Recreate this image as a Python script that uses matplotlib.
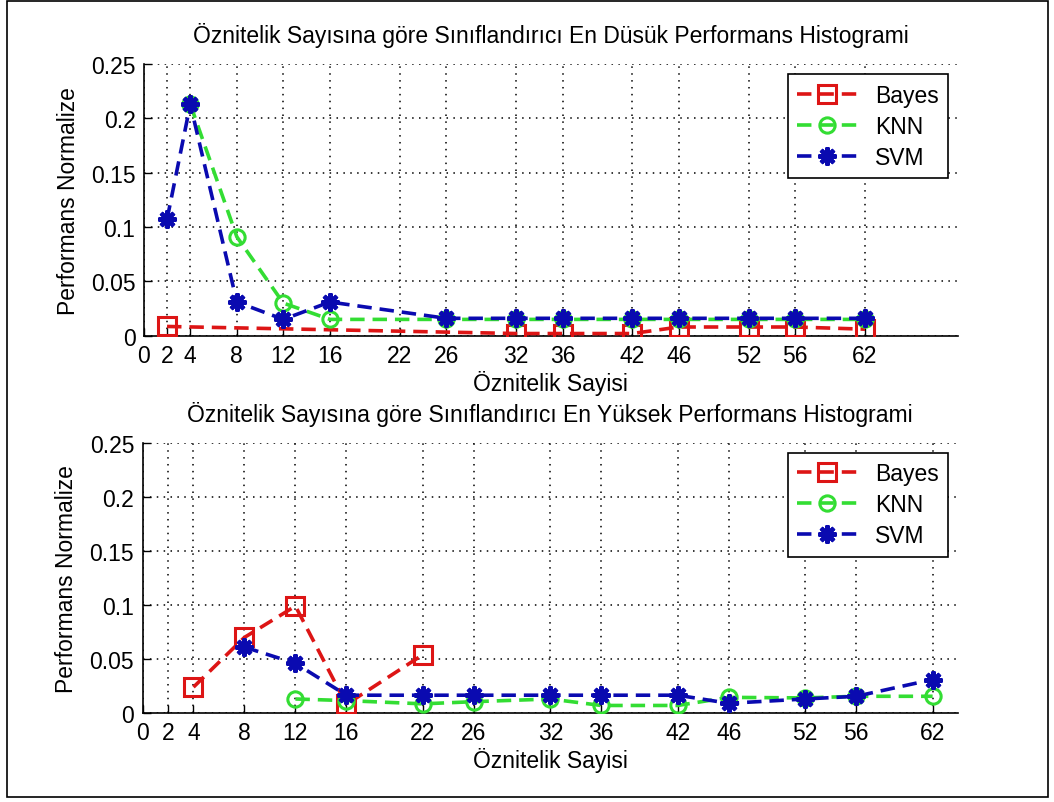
import matplotlib
matplotlib.use("Agg")
import matplotlib.pyplot as plt
from matplotlib.patches import Rectangle

plt.rcParams['font.family'] = ['Liberation Sans', 'DejaVu Sans']

# Feature counts shown on the x axis
tick_x = [0, 2, 4, 8, 12, 16, 22, 26, 32, 36, 42, 46, 52, 56, 62]
tick_y = [0, 0.05, 0.1, 0.15, 0.2, 0.25]

# Lowest performance per classifier
low_bayes_x = [2, 32, 36, 42, 46, 52, 56, 62]
low_bayes_y = [0.0085, 0.002, 0.002, 0.002, 0.008, 0.008, 0.008, 0.006]
low_knn_x = [4, 8, 12, 16, 26, 32, 36, 42, 46, 52, 56, 62]
low_knn_y = [0.213, 0.091, 0.030, 0.015, 0.015, 0.015, 0.015, 0.015, 0.015, 0.015, 0.015, 0.015]
low_svm_x = [2, 4, 8, 12, 16, 26, 32, 36, 42, 46, 52, 56, 62]
low_svm_y = [0.107, 0.213, 0.031, 0.015, 0.031, 0.016, 0.016, 0.016, 0.016, 0.016, 0.016, 0.016, 0.016]

# Highest performance per classifier
high_bayes_x = [4, 8, 12, 16, 22]
high_bayes_y = [0.024, 0.070, 0.099, 0.008, 0.054]
high_knn_x = [12, 16, 22, 26, 32, 36, 42, 46, 52, 56, 62]
high_knn_y = [0.013, 0.0115, 0.0085, 0.0105, 0.013, 0.007, 0.007, 0.0145, 0.014, 0.0155, 0.0155]
high_svm_x = [8, 12, 16, 22, 26, 32, 36, 42, 46, 52, 56, 62]
high_svm_y = [0.061, 0.046, 0.0165, 0.0165, 0.0165, 0.0165, 0.0165, 0.0165, 0.009, 0.013, 0.0155, 0.031]

labels = ["Bayes", "KNN", "SVM"]
colors = ["#dd1515", "#33dd33", "#0a0ab0"]
FS = 16.5

fig = plt.figure(figsize=(10.54, 8.03), dpi=100)
fig.patches.append(Rectangle((0.007, 0.006), 0.987, 0.991, transform=fig.transFigure,
                             fill=False, edgecolor="black", linewidth=1.2))

ax_low = fig.add_axes([0.1364, 0.5807, 0.7726, 0.3383])
ax_high = fig.add_axes([0.1352, 0.1108, 0.7738, 0.3363])

panels = [
    (ax_low, 70, "Öznitelik Sayısına göre Sınıflandırıcı En Düsük Performans Histogrami",
     [(low_bayes_x, low_bayes_y), (low_knn_x, low_knn_y), (low_svm_x, low_svm_y)]),
    (ax_high, 64, "Öznitelik Sayısına göre Sınıflandırıcı En Yüksek Performans Histogrami",
     [(high_bayes_x, high_bayes_y), (high_knn_x, high_knn_y), (high_svm_x, high_svm_y)]),
]

for ax, xmax, title, series in panels:
    (bx, by), (kx, ky), (sx, sy) = series
    ax.plot(bx, by, linestyle=(0, (4, 2.2)), color=colors[0], lw=2.6, marker="s",
            ms=13, mfc="none", mec=colors[0], mew=2.2, label=labels[0], zorder=3)
    ax.plot(kx, ky, linestyle=(0, (4, 2.2)), color=colors[1], lw=2.6, marker="o",
            ms=11, mfc="none", mec=colors[1], mew=2.2, label=labels[1], zorder=4)
    ax.plot(sx, sy, linestyle=(0, (4, 2.2)), color=colors[2], lw=2.6, marker=(8, 2, 0),
            ms=13, mec=colors[2], mew=3.0, label=labels[2], zorder=5)

    ax.set_xlim(0, xmax)
    ax.set_ylim(0, 0.25)
    ax.set_xticks(tick_x)
    ax.set_yticks(tick_y)
    ax.set_yticklabels(["0", "0.05", "0.1", "0.15", "0.2", "0.25"])
    ax.tick_params(direction="in", length=6, width=1, labelsize=FS, pad=6)
    ax.grid(True, linestyle=(0, (1, 3.5)), color="black", linewidth=1.1)
    ax.set_axisbelow(True)
    ax.spines["top"].set_visible(False)
    ax.spines["right"].set_visible(False)
    for s in ("left", "bottom"):
        ax.spines[s].set_linewidth(1.2)
    ax.set_title(title, fontsize=FS, pad=16)
    ax.set_xlabel("Öznitelik Sayisi", fontsize=FS, labelpad=2)
    ax.set_ylabel("Performans Normalize", fontsize=FS, labelpad=8)
    leg = ax.legend(loc="upper right", fontsize=FS, fancybox=False, framealpha=1,
                    edgecolor="black", borderaxespad=0.45, handlelength=2.6,
                    labelspacing=0.35, borderpad=0.4)
    leg.get_frame().set_linewidth(1.2)

fig.savefig("out.png", dpi=100)
